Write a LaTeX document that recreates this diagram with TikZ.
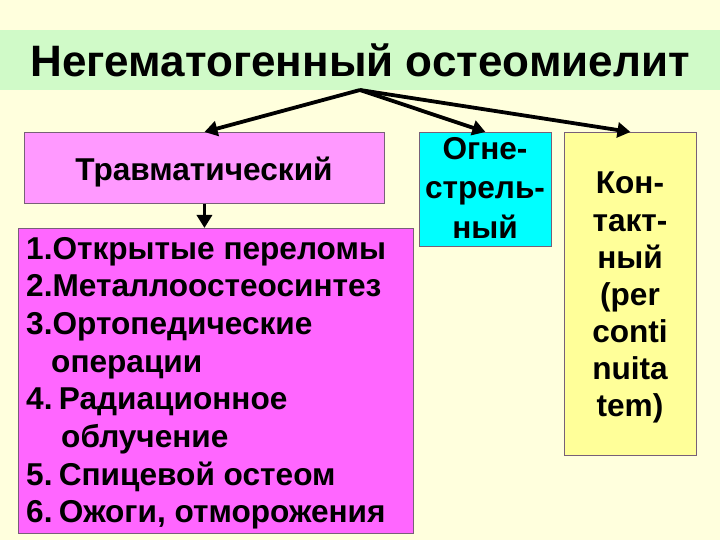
\documentclass[tikz,border=0pt]{standalone}
\usepackage{fontspec}
\setmainfont{Liberation Sans}
\usetikzlibrary{arrows.meta}
\definecolor{bgcream}{RGB}{255,255,221}
\definecolor{bandgreen}{RGB}{208,250,200}
\definecolor{travpink}{RGB}{255,153,255}
\definecolor{listmag}{RGB}{255,102,255}
\definecolor{firecyan}{RGB}{0,255,255}
\definecolor{contyel}{RGB}{255,255,153}
\definecolor{boxborder}{RGB}{120,96,120}
\tikzset{
  boxstyle/.style={draw=boxborder, line width=0.9pt, inner sep=0pt, anchor=north west},
  arr/.style={line width=3.8pt, -{Triangle[length=13pt,width=15pt]}},
  bodytxt/.style={font=\bfseries\fontsize{31.6}{36}\selectfont, inner sep=0pt},
}
\begin{document}
\begin{tikzpicture}[x=1pt,y=-1pt]
\fill[bgcream] (0,0) rectangle (720,540);
\useasboundingbox (0,0) rectangle (720,540);
\fill[bandgreen] (0,30) rectangle (720,90);
\node[font=\bfseries\fontsize{44}{50}\selectfont, inner sep=0pt, anchor=base] (title) at (360,77) {Негематогенный остеомиелит};

\node[boxstyle, fill=travpink, minimum width=360pt, minimum height=71pt] (trav) at (24,132) {};
\node[bodytxt, anchor=base] (travtxt) at (204,181) {Травматический};

\node[boxstyle, fill=listmag, minimum width=395pt, minimum height=305pt] (list) at (18,228) {};
\foreach \x/\t [count=\i] in {26/{1.Открытые переломы}, 26/{2.Металлоостеосинтез}, 26/{3.Ортопедические}, 51/{операции}, 26/{4.\hspace{0.2em}Радиационное}, 61/{облучение}, 26/{5.\hspace{0.2em}Спицевой остеом}, 26/{6.\hspace{0.2em}Ожоги, отморожения}}
  \node[bodytxt, anchor=base west] (li\i) at (\x,{259+37.7*(\i-1)}) {\t};

\node[boxstyle, fill=firecyan, minimum width=132pt, minimum height=114pt] (fire) at (419,132) {};
\foreach \t [count=\i] in {{Огне-}, {стрель-}, {ный}}
  \node[bodytxt, anchor=base] (fi\i) at (485,{160+39*(\i-1)}) {\t};

\node[boxstyle, fill=contyel, minimum width=132pt, minimum height=323pt] (cont) at (564,132) {};
\foreach \t [count=\i] in {{Кон-}, {такт-}, {ный}, {(per}, {conti}, {nuita}, {tem)}}
  \node[bodytxt, anchor=base] (co\i) at (630,{194+37*(\i-1)}) {\t};

\coordinate (hub) at (360,90);
\draw[arr] (hub) -- (trav.north);
\draw[arr] (hub) -- (fire.north);
\draw[arr] (hub) -- (cont.north);
\draw[arr] (trav.south) -- (trav.south |- list.north);
\end{tikzpicture}
\end{document}
